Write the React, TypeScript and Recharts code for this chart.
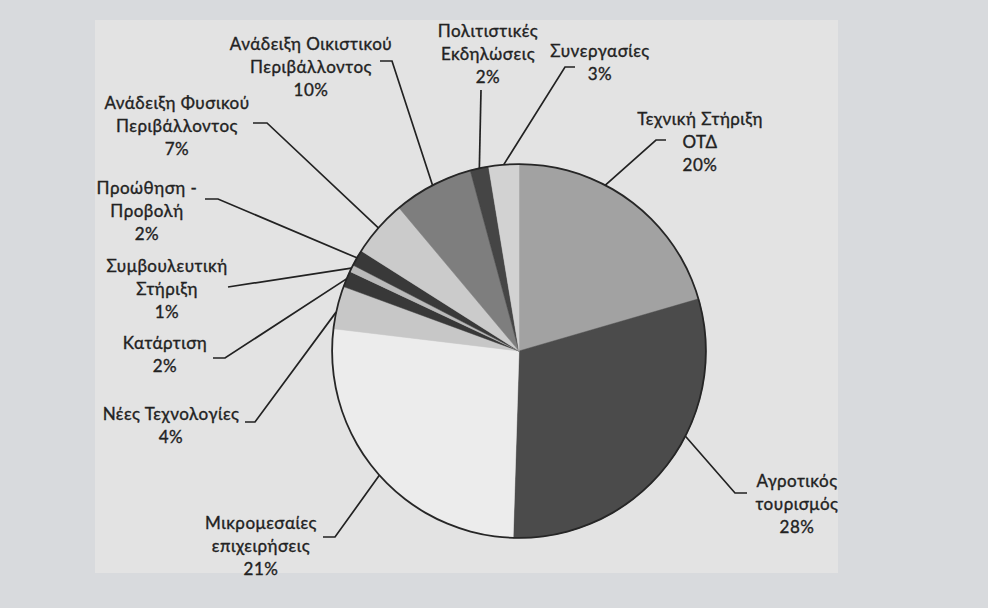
import React from 'react';
import { PieChart, Pie, Cell } from 'recharts';

// ---- data ----
const categories = [
  'Τεχνική Στήριξη ΟΤΔ',
  'Αγροτικός τουρισμός',
  'Μικρομεσαίες επιχειρήσεις',
  'Νέες Τεχνολογίες',
  'Κατάρτιση',
  'Συμβουλευτική Στήριξη',
  'Προώθηση - Προβολή',
  'Ανάδειξη Φυσικού Περιβάλλοντος',
  'Ανάδειξη Οικιστικού Περιβάλλοντος',
  'Πολιτιστικές Εκδηλώσεις',
  'Συνεργασίες',
];
const labelTextLines = [
  ['Τεχνική Στήριξη', 'ΟΤΔ'],
  ['Αγροτικός', 'τουρισμός'],
  ['Μικρομεσαίες', 'επιχειρήσεις'],
  ['Νέες Τεχνολογίες'],
  ['Κατάρτιση'],
  ['Συμβουλευτική', 'Στήριξη'],
  ['Προώθηση -', 'Προβολή'],
  ['Ανάδειξη Φυσικού', 'Περιβάλλοντος'],
  ['Ανάδειξη Οικιστικού', 'Περιβάλλοντος'],
  ['Πολιτιστικές', 'Εκδηλώσεις'],
  ['Συνεργασίες'],
];
const percentLabels = ['20%', '28%', '21%', '4%', '2%', '1%', '2%', '7%', '10%', '2%', '3%'];
// slice sizes as drawn in the picture (share of the full circle, %)
const sliceShares = [20.5, 30.0, 26.4, 3.7, 1.4, 0.6, 1.4, 4.9, 6.9, 1.6, 2.6];

// ---- styles / layout (kept apart from data) ----
const sliceColors = [
  '#a2a2a2', '#4b4b4b', '#ececec', '#c7c7c7', '#383838', '#bababa',
  '#393939', '#cbcbcb', '#7e7e7e', '#454545', '#d2d2d2',
];
// shift: clockwise degrees of leader attach from slice middle;
// elbow / end / text: offsets from pie centre
const labelLayout = [
  { shift: -9.4, elbow: [137, -211], end: [147, -211], text: [181, -233] },
  { shift: -10.7, elbow: [216, 142], end: [228, 142], text: [278, 129] },
  { shift: -1, elbow: [-184, 186], end: [-196, 186], text: [-258, 171] },
  { shift: -1.5, elbow: [-264, 71], end: [-274, 71], text: [-348, 62] },
  { shift: 0, elbow: [-294, 7], end: [-306, 7], text: [-354, -9] },
  { shift: 0, elbow: [-291, -64], end: [-291, -64], text: [-352, -86] },
  { shift: 0, elbow: [-301, -152], end: [-314, -152], text: [-372, -164] },
  { shift: 0, elbow: [-252, -228], end: [-266, -228], text: [-342, -249] },
  { shift: 0, elbow: [-127, -290], end: [-139, -290], text: [-208, -308] },
  { shift: 0, elbow: [-38, -261], end: [-38, -261], text: [-31, -321] },
  { shift: 0, elbow: [46, -284], end: [56, -284], text: [81, -301] },
];

const chartData = categories.map((name, i) => ({ name, value: sliceShares[i] }));
const ringData = [{ name: 'outline', v: 1 }];

const FONT = "'Gill Sans', Lato, 'Noto Sans', sans-serif";
const INK = '#222222';
const LINE_GAP = 23;

const renderLabel = (props: any) => {
  const { cx, cy, midAngle, outerRadius, index } = props;
  const L = labelLayout[index];
  const a = ((midAngle - L.shift) * Math.PI) / 180;
  const ax = cx + outerRadius * Math.cos(a);
  const ay = cy - outerRadius * Math.sin(a);
  const pts = `${ax},${ay} ${cx + L.elbow[0]},${cy + L.elbow[1]} ${cx + L.end[0]},${cy + L.end[1]}`;
  const lines = [...labelTextLines[index], percentLabels[index]];
  const tx = cx + L.text[0];
  const ty = cy + L.text[1];
  return (
    <g key={`lbl-${index}`}>
      <polyline points={pts} fill="none" stroke="#222222" strokeWidth={1.7} />
      <text
        x={tx}
        y={ty}
        textAnchor="middle"
        fill={INK}
        stroke={INK}
        strokeWidth={0.35}
        fontFamily={FONT}
        fontSize={17}
        letterSpacing={0.5}
      >
        {lines.map((t, i) => (
          <tspan key={i} x={tx} y={ty + i * LINE_GAP} dominantBaseline="central">
            {t}
          </tspan>
        ))}
      </text>
    </g>
  );
};

export default function App() {
  return (
    <div
      style={{
        position: 'absolute',
        left: 0,
        top: 0,
        width: 988,
        height: 608,
        background: '#d8dadd',
        overflow: 'hidden',
      }}
    >
      <div
        style={{
          position: 'absolute',
          left: 95,
          top: 20,
          width: 743,
          height: 553,
          background: '#e3e3e3',
        }}
      />
      <div style={{ position: 'absolute', left: 0, top: 0 }}>
        <PieChart width={988} height={608} margin={{ top: 0, right: 0, bottom: 0, left: 0 }}>
          <Pie
            data={chartData}
            dataKey="value"
            nameKey="name"
            cx={519}
            cy={351}
            outerRadius={187}
            startAngle={90}
            endAngle={-270}
            labelLine={false}
            label={renderLabel}
            isAnimationActive={false}
          >
            {chartData.map((d, i) => (
              <Cell key={d.name} fill={sliceColors[i]} stroke={sliceColors[i]} strokeWidth={0.5} />
            ))}
          </Pie>
          <Pie
            data={ringData}
            dataKey="v"
            cx={519}
            cy={351}
            innerRadius={186}
            outerRadius={187.8}
            startAngle={90}
            endAngle={-270}
            fill="#262626"
            stroke="none"
            isAnimationActive={false}
          />
        </PieChart>
      </div>
    </div>
  );
}
